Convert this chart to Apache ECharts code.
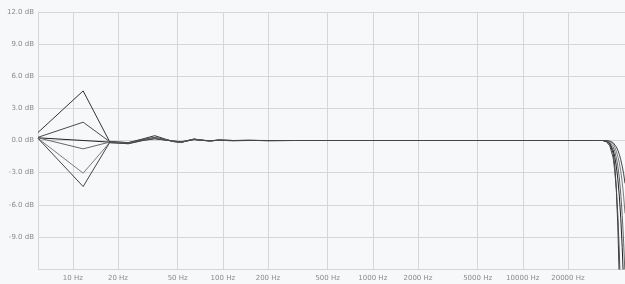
<!DOCTYPE html>
<html>
<head>
<meta charset="utf-8">
<script src="https://cdn.jsdelivr.net/npm/echarts@6/dist/echarts.min.js"></script>
<style>
  html, body { margin: 0; padding: 0; background: #f7f8fa; }
  #main { width: 625px; height: 284px; }
</style>
</head>
<body>
<div id="main"></div>
<script>
// frequency points (Hz)
var lowFreqs = [5.86, 11.72, 17.58];
var midFreqs = [23.44, 29.3, 35.16, 41.02, 46.88, 52.73, 58.59, 64.45, 70.31, 82.03, 93.75, 117.2, 150, 200, 300, 500, 1000, 2000, 5000, 10000, 20000, 30000];
var highFreqs = [34000, 36000, 38000, 40000, 41000, 42000, 43000, 44000, 45000, 46000, 47000, 48000];

// tick labels on the x axis
var xTicks = [10, 20, 50, 100, 200, 500, 1000, 2000, 5000, 10000, 20000];

// dB values, one set per curve
var low1 = [0.75, 4.63, -0.1];
var low2 = [0.3, 1.71, -0.1];
var low3 = [0.25, 0.0, -0.15];
var low4 = [0.25, -0.78, -0.15];
var low5 = [0.2, -3.05, -0.2];
var low6 = [0.2, -4.3, -0.2];

var mid1 = [-0.2, 0.15, 0.45, 0.15, -0.1, -0.2, 0, 0.15, 0.05, -0.05, 0.05, 0, 0.03, -0.03, 0, 0, 0, 0, 0, 0, 0, 0];
var mid2 = [-0.2, 0.1, 0.3, 0.1, -0.1, -0.15, 0, 0.12, 0.05, -0.03, 0.03, 0, 0, 0, 0, 0, 0, 0, 0, 0, 0, 0];
var mid3 = [-0.25, 0.05, 0.2, 0.05, -0.05, -0.15, -0.02, 0.1, 0.03, -0.03, 0.02, -0.02, 0, 0, 0, 0, 0, 0, 0, 0, 0, 0];
var mid4 = [-0.25, 0.05, 0.25, 0.08, -0.08, -0.18, 0, 0.12, 0.02, -0.02, 0.02, 0, 0, 0, 0, 0, 0, 0, 0, 0, 0, 0];
var mid5 = [-0.3, 0, 0.2, 0.05, -0.05, -0.12, -0.02, 0.1, 0.02, -0.04, 0.02, -0.02, 0.02, 0, 0, 0, 0, 0, 0, 0, 0, 0];
var mid6 = [-0.3, 0, 0.15, 0.05, -0.05, -0.1, -0.02, 0.08, 0.03, -0.02, 0.02, 0, 0, 0, 0, 0, 0, 0, 0, 0, 0, 0];

var high1 = [0, -0.05, -0.3, -1.2, -2.3, -4.5, -8, -13, -20, -25, -30, -35];
var high2 = [0, -0.1, -0.5, -1.6, -2.8, -4.5, -7, -10.5, -15, -20, -25, -30];
var high3 = [0, -0.05, -0.3, -0.9, -1.5, -2.4, -3.6, -5.2, -7.3, -10, -13.5, -18];
var high4 = [0, 0, -0.2, -0.6, -1, -1.6, -2.4, -3.5, -5, -7, -9.5, -12.5];
var high5 = [0, 0, -0.1, -0.35, -0.6, -1, -1.5, -2.1, -2.9, -3.9, -5.2, -6.8];
var high6 = [0, 0, -0.05, -0.2, -0.35, -0.6, -0.9, -1.3, -1.8, -2.4, -3.1, -4];

var lineColors = ['#333333', '#4a4a4a', '#222222', '#666666', '#7a7a7a', '#444444'];

var allFreqs = lowFreqs.concat(midFreqs, highFreqs);
function build(lo, mi, hi) {
  var vals = lo.concat(mi, hi);
  return allFreqs.map(function (f, i) { return [Math.log10(f), vals[i]]; });
}

var curves = [
  build(low1, mid1, high1),
  build(low2, mid2, high2),
  build(low3, mid3, high3),
  build(low4, mid4, high4),
  build(low5, mid5, high5),
  build(low6, mid6, high6)
];

var labelFont = { color: '#8a8a8a', fontSize: 7, fontFamily: 'DejaVu Sans' };
var gridColor = '#d6d6d6';

var myChart = echarts.init(document.getElementById('main'));
var option = {
  backgroundColor: '#f7f8fa',
  animation: false,
  grid: { left: 38, right: 0, top: 12, bottom: 15, containLabel: false },
  xAxis: {
    type: 'value',
    min: Math.log10(5.86),
    max: Math.log10(48000),
    axisLine: { show: true, lineStyle: { color: gridColor } },
    axisTick: { show: false, customValues: xTicks.map(function (v) { return Math.log10(v); }) },
    axisLabel: Object.assign({
      customValues: xTicks.map(function (v) { return Math.log10(v); }),
      margin: 6,
      formatter: function (v) { return Math.round(Math.pow(10, v)) + ' Hz'; }
    }, labelFont),
    splitLine: { show: true, lineStyle: { color: gridColor, width: 1 } }
  },
  yAxis: {
    type: 'value',
    min: -12,
    max: 12,
    interval: 3,
    axisLine: { show: true, lineStyle: { color: gridColor } },
    axisTick: { show: false },
    axisLabel: Object.assign({
      margin: 4,
      formatter: function (v) { return v === -12 ? '' : v.toFixed(1) + ' dB'; }
    }, labelFont),
    splitLine: { show: true, lineStyle: { color: gridColor, width: 1 } }
  },
  series: curves.map(function (d, i) {
    return {
      type: 'line',
      data: d,
      showSymbol: false,
      clip: true,
      lineStyle: { color: lineColors[i], width: 1 }
    };
  })
};
myChart.setOption(option);
</script>
</body>
</html>
